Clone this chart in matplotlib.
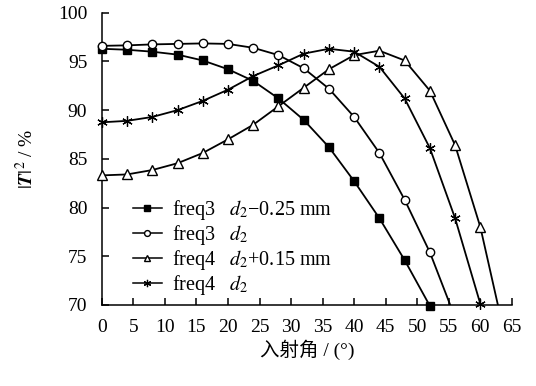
import matplotlib
matplotlib.use('Agg')
import matplotlib.pyplot as plt
from matplotlib.lines import Line2D
import numpy as np

plt.rcParams['font.family'] = ['Liberation Serif', 'Noto Sans CJK SC']
plt.rcParams['mathtext.fontset'] = 'stix'
plt.rcParams['font.size'] = 14

# 入射角 (deg), 每 4 度一个点
angles = [0, 4, 8, 12, 16, 20, 24, 28, 32, 36, 40, 44, 48, 52, 56, 60, 64]

# |T|^2 (%)
freq3_minus = [96.3, 96.2, 96.0, 95.7, 95.1, 94.2, 93.0, 91.2, 89.0, 86.2,
               82.7, 78.9, 74.6, 69.9]
freq3_d2 = [96.6, 96.65, 96.75, 96.8, 96.85, 96.8, 96.4, 95.65, 94.3, 92.2,
            89.3, 85.6, 80.8, 75.4, 68.7]
freq4_plus = [83.3, 83.4, 83.85, 84.55, 85.6, 87.0, 88.5, 90.4, 92.3, 94.2,
              95.65, 96.1, 95.1, 92.0, 86.4, 78.0, 66.5]
freq4_d2 = [88.75, 88.9, 89.3, 90.0, 90.95, 92.1, 93.5, 94.6, 95.8, 96.3,
            96.0, 94.45, 91.2, 86.1, 78.9, 70.1]

labels = ['freq3   $d_2$\u22120.25 mm', 'freq3   $d_2$',
          'freq4   $d_2$+0.15 mm', 'freq4   $d_2$']

styles = [dict(marker='s', markerfacecolor='black', markersize=5.5),
          dict(marker='o', markerfacecolor='white', markersize=6),
          dict(marker='^', markerfacecolor='white', markersize=6.5),
          dict(marker=(6, 2, 0), markerfacecolor='black', markersize=7.5,
               markeredgewidth=0.9)]

fig = plt.figure(figsize=(5.36, 3.86), dpi=100)
ax = fig.add_axes([0.19, 0.21, 0.765, 0.757])

handles = []
for ys, st, lab in zip([freq3_minus, freq3_d2, freq4_plus, freq4_d2], styles, labels):
    x = np.array(angles[:len(ys)])
    y = np.array(ys)
    # 曲线 (裁剪在坐标区内)
    ax.plot(x, y, color='black', lw=1.3, zorder=2)
    # 标记点 (不裁剪, 只画坐标区内的点)
    keep = y >= 69.5
    ax.plot(x[keep], y[keep], ls='none', color='black', clip_on=False, zorder=3, **st)
    handles.append(Line2D([], [], color='black', lw=1.1, **st))

ax.set_xlim(0, 65)
ax.set_ylim(70, 100)
ax.set_xticks(range(0, 66, 5))
ax.set_yticks(range(70, 101, 5))

ax.spines['top'].set_visible(False)
ax.spines['right'].set_visible(False)
ax.spines['left'].set_linewidth(1.1)
ax.spines['bottom'].set_linewidth(1.1)
ax.tick_params(direction='in', length=5, width=1.1)
ax.tick_params(axis='y', pad=10.5)
ax.tick_params(axis='x', pad=10)

ax.set_xlabel('入射角 / (°)', labelpad=3)
ax.set_ylabel(r'$|\mathbfit{T}|^2$ / %', labelpad=15)

ax.legend(handles, labels, loc='lower left', bbox_to_anchor=(0.075, 0.028),
          frameon=False, borderpad=0, borderaxespad=0, handlelength=1.45,
          handletextpad=0.5, labelspacing=0.05, markerscale=0.7, fontsize=14.5)

fig.savefig('out.png', dpi=100)
